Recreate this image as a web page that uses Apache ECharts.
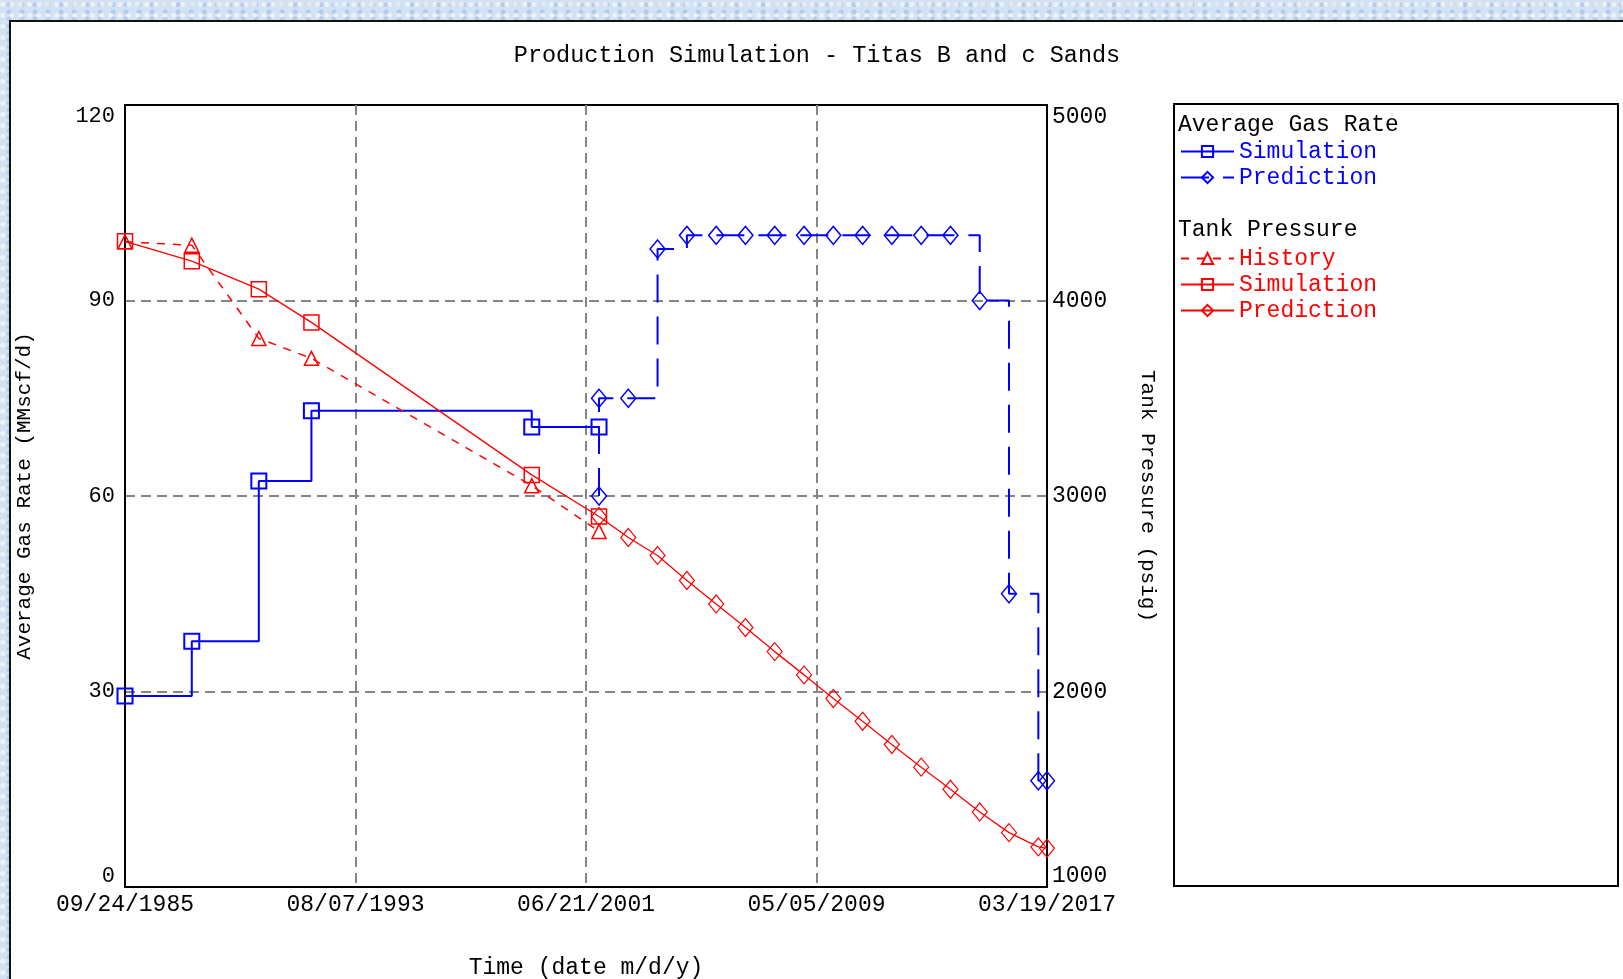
<!DOCTYPE html>
<html><head><meta charset="utf-8">
<script src="https://cdn.jsdelivr.net/npm/echarts@6/dist/echarts.min.js"></script>
<style>
html,body{margin:0;padding:0;width:1623px;height:979px;overflow:hidden;
  background:#d2e2f3;}
#bgtex{position:absolute;left:0;top:0;width:1623px;height:979px;
  background-image:radial-gradient(circle at 30% 40%, rgba(255,255,255,0.55) 0 2px, transparent 3px),
                   radial-gradient(circle at 70% 70%, rgba(150,180,220,0.5) 0 2px, transparent 3px);
  background-size:9px 11px, 13px 7px;}
#panel{position:absolute;left:9px;top:20px;width:1640px;height:1000px;background:#fff;
  border-left:2px solid #111;border-top:2px solid #111;}
#chart{position:absolute;left:0;top:0;width:1623px;height:979px;}
</style></head><body>
<div id="bgtex"></div><div id="panel"></div><div id="chart"></div>
<script>
// ---------- data ----------
const xTickLabels = ['09/24/1985', '08/07/1993', '06/21/2001', '05/05/2009', '03/19/2017'];
const leftTicks = [0, 30, 60, 90, 120];
const rightTicks = [1000, 2000, 3000, 4000, 5000];

// simulation / history dates (shared by gas & pressure)
const simDates = ['1985-09-24', '1988-01-05', '1990-04-20', '1992-02-05', '1999-08-15', '2001-12-01'];
const gasSimRate = [29.3, 37.7, 62.3, 73.1, 70.6, 70.6];
const pressSim = [4303, 4201, 4058, 3888, 3108, 2895];
const pressHistory = [4300, 4283, 3806, 3704, 3053, 2819];

// gas prediction (step)
const gasPredDates = ['2001-12-01', '2001-12-01', '2002-12-01', '2003-12-01', '2004-12-01', '2005-12-01',
  '2006-12-01', '2007-12-01', '2008-12-01', '2009-12-01', '2010-12-01', '2011-12-01', '2012-12-01',
  '2013-12-01', '2014-12-01', '2015-12-01', '2016-12-01', '2017-03-19'];
const gasPredRate = [60, 75, 75, 97.9, 100, 100, 100, 100, 100, 100, 100, 100, 100, 100, 90, 45, 16.3, 16.3];

// pressure prediction
const pressPredDates = ['2001-12-01', '2002-12-01', '2003-12-01', '2004-12-01', '2005-12-01', '2006-12-01',
  '2007-12-01', '2008-12-01', '2009-12-01', '2010-12-01', '2011-12-01', '2012-12-01', '2013-12-01',
  '2014-12-01', '2015-12-01', '2016-12-01', '2017-03-19'];
const pressPred = [2895, 2788, 2696, 2568, 2448, 2327, 2204, 2085, 1964, 1848, 1729, 1613, 1500, 1384, 1278, 1205, 1198];

// ---------- helpers ----------
function parseTick(s) { const [m, d, y] = s.split('/').map(Number); return Date.UTC(y, m - 1, d); }
function parseIso(s) { const [y, m, d] = s.split('-').map(Number); return Date.UTC(y, m - 1, d); }
const DAY = 86400000;
const t0 = parseTick(xTickLabels[0]);
const tEnd = parseTick(xTickLabels[xTickLabels.length - 1]);
const xMax = (tEnd - t0) / DAY;
const xInterval = xMax / (xTickLabels.length - 1);
const toDay = s => (parseIso(s) - t0) / DAY;
const pairs = (dates, vals) => dates.map((d, i) => [toDay(d), vals[i]]);

const BLUE = '#0000ff', RED = '#ff0000';
const FONT = 'Liberation Mono';
const GRIDLINE = { show: true, showMinLine: false, showMaxLine: false,
  lineStyle: { color: '#858585', type: [10, 6], width: 2 } };

const chart = echarts.init(document.getElementById('chart'), null, { renderer: 'canvas' });
chart.setOption({
  backgroundColor: 'transparent',
  animation: false,
  textStyle: { fontFamily: FONT },
  title: {
    text: 'Production Simulation - Titas B and c Sands',
    left: 812, top: 39, textAlign: 'center',
    textStyle: { fontFamily: FONT, fontSize: 23.5, fontWeight: 'normal', color: '#000' }
  },
  grid: { left: 125, top: 105, width: 922, height: 782, containLabel: false, outerBoundsMode: 'none',
    show: true, borderColor: '#000', borderWidth: 2, backgroundColor: 'transparent' },
  xAxis: {
    type: 'value', min: 0, max: xMax, interval: xInterval,
    name: 'Time (date m/d/y)', nameLocation: 'middle', nameGap: 69,
    nameTextStyle: { fontFamily: FONT, fontSize: 23, color: '#000' },
    axisLine: { show: true, lineStyle: { color: '#000', width: 2 } },
    axisTick: { show: false },
    axisLabel: {
      fontFamily: FONT, fontSize: 23, color: '#000', margin: 6,
      formatter: v => xTickLabels[Math.round(v / xInterval)] || ''
    },
    splitLine: GRIDLINE
  },
  yAxis: [{
    type: 'value', position: 'left', min: leftTicks[0], max: leftTicks[leftTicks.length - 1],
    interval: leftTicks[1] - leftTicks[0],
    name: 'Average Gas Rate (MMscf/d)', nameLocation: 'middle', nameGap: 90, nameRotate: 90,
    nameTextStyle: { fontFamily: FONT, fontSize: 21, color: '#000' },
    axisLine: { show: true, lineStyle: { color: '#000', width: 2 } },
    axisTick: { show: false },
    axisLabel: { fontFamily: FONT, fontSize: 22, color: '#000', margin: 10,
      formatter: v => String(v),
      verticalAlignMinLabel: 'bottom', verticalAlignMaxLabel: 'top' },
    splitLine: GRIDLINE
  }, {
    type: 'value', position: 'right', min: rightTicks[0], max: rightTicks[rightTicks.length - 1],
    interval: rightTicks[1] - rightTicks[0],
    name: 'Tank Pressure (psig)', nameLocation: 'middle', nameGap: 90, nameRotate: -90,
    nameTextStyle: { fontFamily: FONT, fontSize: 21, color: '#000' },
    axisLine: { show: true, lineStyle: { color: '#000', width: 2 } },
    axisTick: { show: false },
    axisLabel: { fontFamily: FONT, fontSize: 23, color: '#000', margin: 5,
      formatter: v => String(v),
      verticalAlignMinLabel: 'bottom', verticalAlignMaxLabel: 'top' },
    splitLine: { show: false }
  }],
  legend: [{
    data: ['Gas Simulation', 'Gas Prediction'],
    orient: 'vertical', left: 1175, top: 135, itemWidth: 53, itemHeight: 14, itemGap: 3,
    formatter: n => n.replace(/^(Gas|Pressure) /, ''),
    textStyle: { fontFamily: FONT, fontSize: 23, color: BLUE }, selectedMode: false
  }, {
    data: ['Pressure History', 'Pressure Simulation', 'Pressure Prediction'],
    orient: 'vertical', left: 1175, top: 242, itemWidth: 53, itemHeight: 14, itemGap: 3,
    formatter: n => n.replace(/^(Gas|Pressure) /, ''),
    textStyle: { fontFamily: FONT, fontSize: 23, color: RED }, selectedMode: false
  }],
  graphic: [
    { type: 'rect', shape: { x: 1174, y: 104, width: 444, height: 782 }, style: { fill: 'none', stroke: '#000', lineWidth: 2 }, z: 1 },
    { type: 'text', x: 1178, y: 125, style: { text: 'Average Gas Rate', font: '23px "Liberation Mono"', fill: '#000', verticalAlign: 'middle' }, z: 2 },
    { type: 'text', x: 1178, y: 230, style: { text: 'Tank Pressure', font: '23px "Liberation Mono"', fill: '#000', verticalAlign: 'middle' }, z: 2 }
  ],
  series: [{
    name: 'Gas Simulation', type: 'line', yAxisIndex: 0, step: 'end',
    data: pairs(simDates, gasSimRate),
    symbol: 'rect', symbolSize: 15,
    itemStyle: { color: 'rgba(0,0,0,0)', borderColor: BLUE, borderWidth: 2 },
    lineStyle: { color: BLUE, width: 2 }
  }, {
    name: 'Gas Prediction', type: 'line', yAxisIndex: 0, step: 'end',
    data: pairs(gasPredDates, gasPredRate),
    symbol: 'diamond', symbolSize: [15, 18],
    itemStyle: { color: 'rgba(0,0,0,0)', borderColor: BLUE, borderWidth: 1.5 },
    lineStyle: { color: BLUE, width: 2, type: [28, 14] }
  }, {
    name: 'Pressure History', type: 'line', yAxisIndex: 1,
    data: pairs(simDates, pressHistory),
    symbol: 'triangle', symbolSize: 14,
    itemStyle: { color: 'rgba(0,0,0,0)', borderColor: RED, borderWidth: 1.5 },
    lineStyle: { color: RED, width: 1.5, type: [8, 8] }
  }, {
    name: 'Pressure Simulation', type: 'line', yAxisIndex: 1,
    data: pairs(simDates, pressSim),
    symbol: 'rect', symbolSize: 15,
    itemStyle: { color: 'rgba(0,0,0,0)', borderColor: RED, borderWidth: 1.5 },
    lineStyle: { color: RED, width: 1.3 }
  }, {
    name: 'Pressure Prediction', type: 'line', yAxisIndex: 1,
    data: pairs(pressPredDates, pressPred),
    symbol: 'diamond', symbolSize: [15, 18],
    itemStyle: { color: 'rgba(0,0,0,0)', borderColor: RED, borderWidth: 1.2 },
    lineStyle: { color: RED, width: 1.3 }
  }]
});
</script>
</body></html>
